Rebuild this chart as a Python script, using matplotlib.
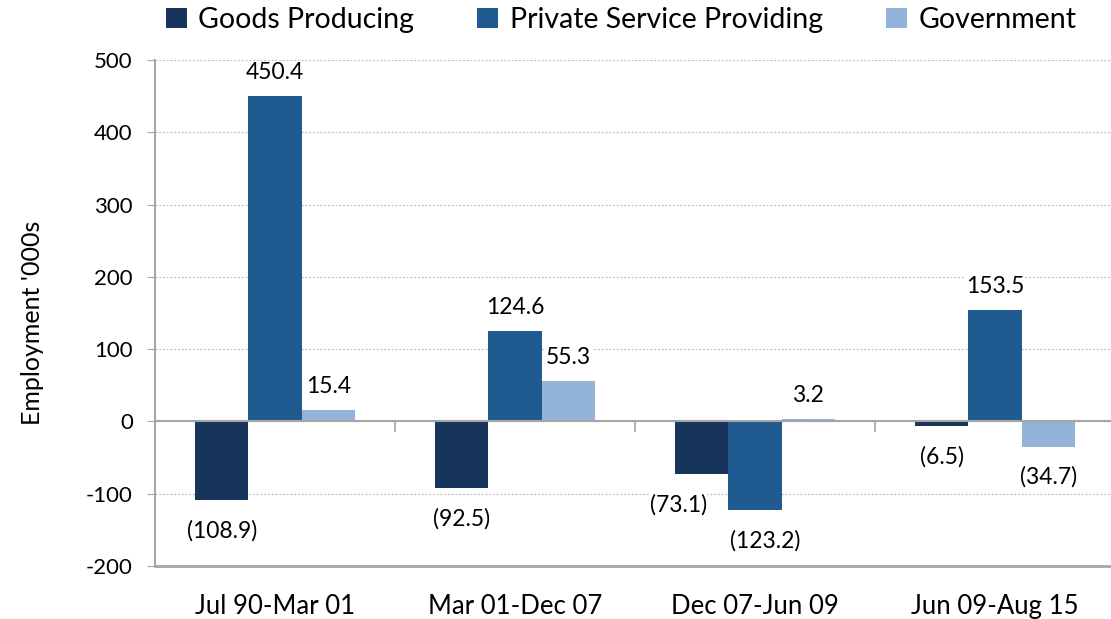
import matplotlib

matplotlib.use("Agg")
import matplotlib.pyplot as plt
import matplotlib.transforms as mtransforms
import numpy as np

plt.rcParams["font.family"] = ["Lato", "DejaVu Sans"]
plt.rcParams["axes.unicode_minus"] = False

periods = ["Jul 90-Mar 01", "Mar 01-Dec 07", "Dec 07-Jun 09", "Jun 09-Aug 15"]
series = ["Goods Producing", "Private Service Providing", "Government"]
goods = [-108.9, -92.5, -73.1, -6.5]
private = [450.4, 124.6, -123.2, 153.5]
government = [15.4, 55.3, 3.2, -34.7]
colors = ["#16345C", "#1F5A91", "#93B3D9"]
y_ticks = [-200, -100, 0, 100, 200, 300, 400, 500]

# sideways nudge (points) for labels that would sit on a neighbouring bar
nudge = {(0, 2): -17, (1, 2): 7}


def fmt(v):
    return f"({abs(v):.1f})" if v < 0 else f"{v:.1f}"


fig = plt.figure(figsize=(11.11, 6.19), dpi=100)
ax = fig.add_axes([155 / 1111, 53 / 619, 960 / 1111, 506 / 619])

x = np.arange(len(periods))
w = 0.222
grey = "#A6A6A6"

for i, (name, vals) in enumerate(zip(series, [goods, private, government])):
    pos = x + (i - 1) * w
    ax.bar(pos, vals, width=w, color=colors[i], label=name, zorder=3)
    for j, (px, v) in enumerate(zip(pos, vals)):
        dy = 17 if v >= 0 else -22
        dx = nudge.get((i, j), 0)
        ax.annotate(fmt(v), (px, v), xytext=(dx, dy), textcoords="offset points",
                    ha="center", va="center", fontsize=16.5, color="black", zorder=5,
                    bbox=dict(facecolor="white", edgecolor="none", pad=0.5))

ax.set_ylim(-200, 500)
ax.set_xlim(-0.5, 3.5)
ax.set_yticks(y_ticks)
ax.yaxis.grid(True, linestyle=(0, (1.5, 1.5)), color="#BFBFBF", linewidth=0.9, zorder=0)
ax.tick_params(axis="y", direction="out", length=6, color=grey, labelsize=16, pad=10,
               labelcolor="black")

# category axis sits on zero; labels go below the chart floor
ax.spines["top"].set_visible(False)
ax.spines["right"].set_visible(False)
ax.spines["left"].set_color(grey)
ax.spines["left"].set_linewidth(1.5)
ax.spines["bottom"].set_position(("data", 0))
ax.spines["bottom"].set_color(grey)
ax.spines["bottom"].set_linewidth(1.5)
ax.spines["bottom"].set_zorder(4)
ax.set_xticks(x[:-1] + 0.5)
ax.set_xticklabels([])
ax.tick_params(axis="x", direction="out", length=8, width=1.2, color=grey)
ax.axhline(-200, color=grey, linewidth=2, zorder=4, clip_on=False)

trans = mtransforms.blended_transform_factory(ax.transData, ax.transAxes)
for xi, lab in zip(x, periods):
    ax.text(xi, -0.055, lab, transform=trans, ha="center", va="top", fontsize=18.5)

ax.set_ylabel("Employment '000s", fontsize=18)
ax.yaxis.set_label_coords(-0.116, 0.48)

handles, labels = ax.get_legend_handles_labels()
fig.legend(handles, labels, loc="center", bbox_to_anchor=(621 / 1111, 1 - 20 / 619),
           ncol=3, frameon=False, fontsize=20.5, handlelength=0.75, handleheight=0.75,
           handletextpad=0.4, columnspacing=2.2, borderaxespad=0)

fig.savefig("out.png", dpi=100)
